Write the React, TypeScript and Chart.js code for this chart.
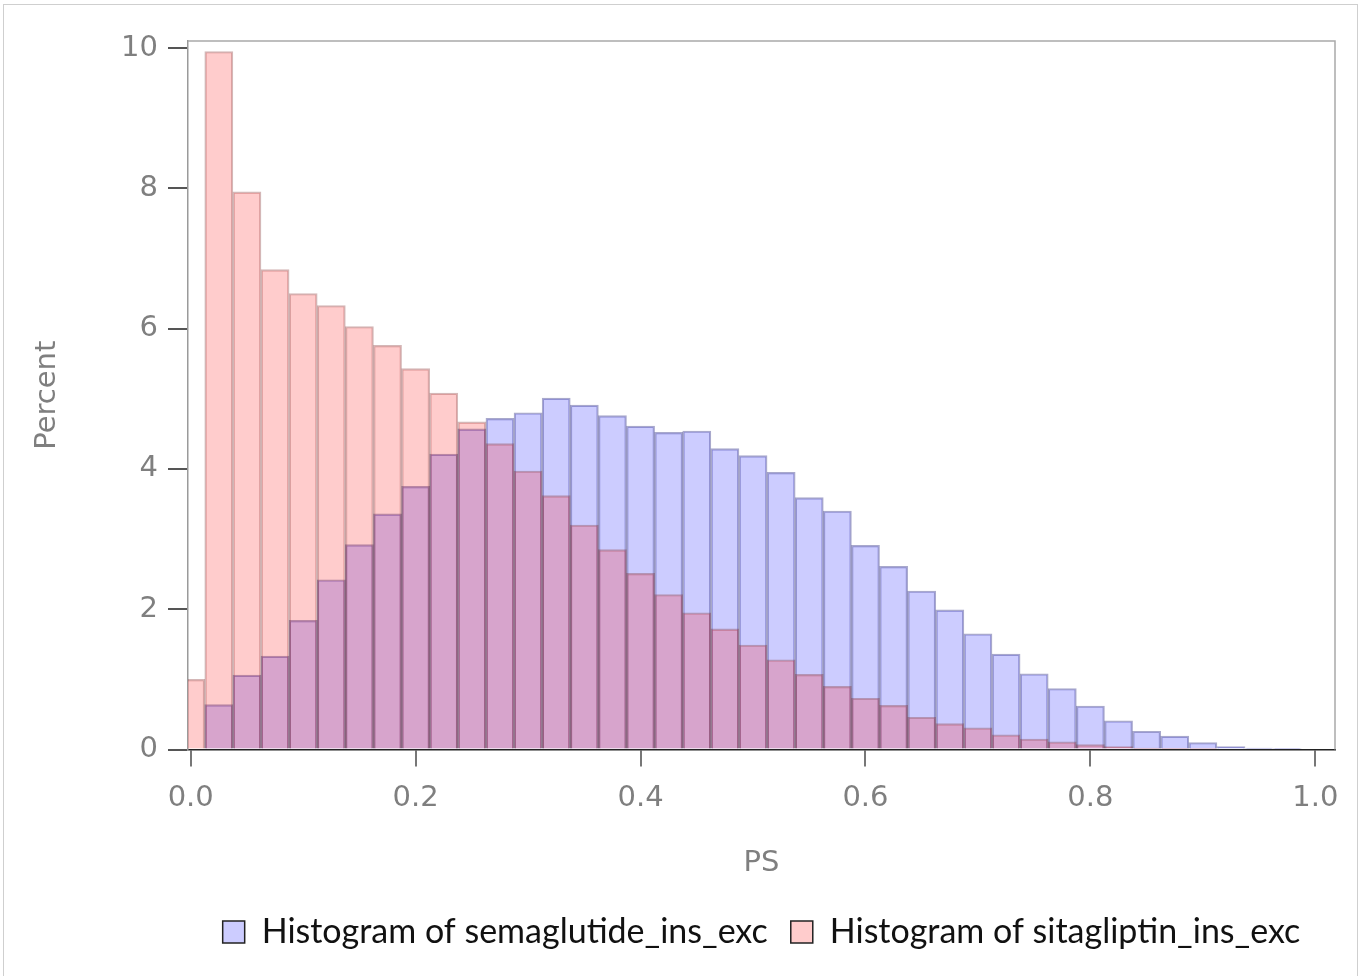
import React, { useEffect, useRef } from "react";
import { Chart, registerables } from "chart.js";

Chart.register(...registerables);

// Bin centers (PS), bin width 0.025
const binCenters = [
  0, 0.025, 0.05, 0.075, 0.1, 0.125, 0.15, 0.175, 0.2, 0.225,
  0.25, 0.275, 0.3, 0.325, 0.35, 0.375, 0.4, 0.425, 0.45, 0.475,
  0.5, 0.525, 0.55, 0.575, 0.6, 0.625, 0.65, 0.675, 0.7, 0.725,
  0.75, 0.775, 0.8, 0.825, 0.85, 0.875, 0.9, 0.925, 0.95, 0.975, 1.0,
];

// Percent per bin
const semaglutide = [
  0, 0.64, 1.06, 1.33, 1.84, 2.42, 2.92, 3.36, 3.75, 4.21,
  4.57, 4.72, 4.8, 5.01, 4.91, 4.76, 4.61, 4.52, 4.54, 4.29,
  4.19, 3.95, 3.59, 3.4, 2.91, 2.61, 2.26, 1.99, 1.65, 1.36,
  1.08, 0.87, 0.62, 0.41, 0.26, 0.19, 0.1, 0.04, 0.02, 0.01, 0,
];

const sitagliptin = [
  1.0, 9.95, 7.95, 6.84, 6.5, 6.33, 6.03, 5.76, 5.43, 5.08,
  4.67, 4.36, 3.97, 3.62, 3.2, 2.85, 2.51, 2.21, 1.95, 1.72,
  1.49, 1.28, 1.07, 0.9, 0.73, 0.63, 0.46, 0.37, 0.31, 0.21,
  0.15, 0.11, 0.07, 0.04, 0.02, 0.01, 0.005, 0, 0, 0, 0,
];

const xTicks = [0, 0.2, 0.4, 0.6, 0.8, 1.0];
const yTicks = [0, 2, 4, 6, 8, 10];
const seriesNames = ["Histogram of semaglutide_ins_exc", "Histogram of sitagliptin_ins_exc"];
const xTitle = "PS";
const yTitle = "Percent";

const seriesFill = ["rgba(0,0,255,0.2)", "rgba(255,0,0,0.2)"];
const seriesBorder = ["rgba(30,30,120,0.38)", "rgba(120,30,30,0.32)"];
const legendFill = ["#ccccff", "#ffcccc"];

export default function App() {
  const ref = useRef<HTMLCanvasElement | null>(null);

  useEffect(() => {
    if (!ref.current) return;

    const framePlugin = {
      id: "frameLines",
      afterDatasetsDraw(chart: any) {
        const { ctx, chartArea } = chart;
        const { left, right, top, bottom } = chartArea;
        ctx.save();
        ctx.strokeStyle = "#a9a9a9";
        ctx.lineWidth = 1.5;
        ctx.beginPath();
        ctx.moveTo(left, top);
        ctx.lineTo(right, top);
        ctx.lineTo(right, bottom);
        ctx.stroke();
        ctx.restore();
      },
    };

    const legendShift = {
      id: "legendShift",
      afterUpdate(chart: any) {
        const lg = chart.legend;
        if (!lg) return;
        lg.left = chart.chartArea.left;
        lg.right = chart.chartArea.right;
        lg.width = lg.right - lg.left;
        if (typeof lg.adjustHitBoxes === "function") lg.adjustHitBoxes();
      },
    };

    const axisFont = { family: "DejaVu Sans", size: 29 };

    const chart = new Chart(ref.current, {
      type: "bar",
      data: {
        datasets: [
          {
            label: seriesNames[0],
            data: binCenters.map((x, i) => ({ x, y: semaglutide[i] })),
            backgroundColor: seriesFill[0],
            borderColor: seriesBorder[0],
            borderWidth: 1.5,
            grouped: false,
            barPercentage: 1,
            categoryPercentage: 1,
            order: 2,
          } as any,
          {
            label: seriesNames[1],
            data: binCenters.map((x, i) => ({ x, y: sitagliptin[i] })),
            backgroundColor: seriesFill[1],
            borderColor: seriesBorder[1],
            borderWidth: 1.5,
            grouped: false,
            barPercentage: 1,
            categoryPercentage: 1,
            order: 1,
          } as any,
        ],
      },
      options: {
        animation: false,
        responsive: false,
        maintainAspectRatio: false,
        devicePixelRatio: 1,
        layout: { padding: { top: 41, right: 27, bottom: 17, left: 0 } },
        scales: {
          x: {
            type: "linear",
            offset: false,
            min: -0.0024,
            max: 1.0175,
            afterBuildTicks: (s: any) => {
              s.ticks = xTicks.map((v) => ({ value: v }));
            },
            afterFit: (s: any) => {
              s.height = 142.5;
            },
            ticks: {
              callback: (v: any) => Number(v).toFixed(1),
              color: "#7f7f7f",
              font: axisFont,
              padding: 15,
              maxRotation: 0,
              autoSkip: false,
            },
            grid: {
              display: true,
              offset: false,
              drawOnChartArea: false,
              drawTicks: true,
              tickLength: 17,
              color: "#777",
              lineWidth: 2,
            },
            border: { display: true, color: "#222", width: 1.5 },
            title: {
              display: true,
              text: xTitle,
              color: "#7f7f7f",
              font: axisFont,
              padding: { top: 0, bottom: 11 },
            },
          } as any,
          y: {
            type: "linear",
            min: 0,
            max: 10.1,
            afterBuildTicks: (s: any) => {
              s.ticks = yTicks.map((v) => ({ value: v }));
            },
            afterFit: (s: any) => {
              s.width = 188;
            },
            ticks: {
              color: "#7f7f7f",
              font: axisFont,
              padding: 10,
              autoSkip: false,
            },
            grid: {
              display: true,
              drawOnChartArea: false,
              drawTicks: true,
              tickLength: 20,
              color: "#555",
              lineWidth: 2,
            },
            border: { display: true, color: "#9a9a9a", width: 1.5 },
            title: {
              display: true,
              text: yTitle,
              color: "#7f7f7f",
              font: axisFont,
              padding: { top: 30, bottom: 0 },
            },
          } as any,
        },
        plugins: {
          legend: {
            position: "bottom",
            labels: {
              boxWidth: 22,
              boxHeight: 22,
              padding: 23,
              color: "#111",
              font: { family: "Lato", size: 34 },
              sort: (a: any, b: any) => a.datasetIndex - b.datasetIndex,
              generateLabels: (c: any) => {
                const items = (Chart.defaults.plugins.legend.labels as any).generateLabels(c);
                return items.map((it: any) => ({
                  ...it,
                  fillStyle: legendFill[it.datasetIndex],
                  strokeStyle: "#222",
                  lineWidth: 1.5,
                }));
              },
            },
          },
          tooltip: { enabled: false },
        },
      } as any,
      plugins: [framePlugin, legendShift],
    });

    return () => chart.destroy();
  }, []);

  return (
    <div style={{ position: "fixed", left: 0, top: 0, width: 1362, height: 976, background: "#fff", overflow: "hidden" }}>
      <div
        style={{
          position: "absolute",
          left: 3,
          top: 4,
          width: 1355,
          height: 990,
          border: "1px solid #cfcfcf",
          boxSizing: "border-box",
        }}
      />
      <canvas
        ref={ref}
        width={1362}
        height={976}
        style={{ position: "absolute", left: 0, top: 0, width: 1362, height: 976 }}
      />
    </div>
  );
}
